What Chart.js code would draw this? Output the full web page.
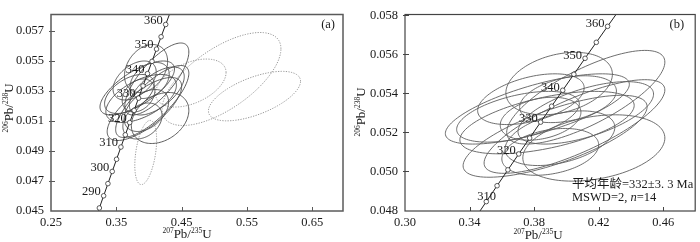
<!DOCTYPE html>
<html>
<head>
<meta charset="utf-8">
<script src="https://cdn.jsdelivr.net/npm/chart.js@4.4.1/dist/chart.umd.min.js"></script>
<style>
body { margin: 0; background: #fff; }
#wrapA { position: absolute; left: 0; top: 0; width: 350px; height: 242px; }
#wrapB { position: absolute; left: 350px; top: 0; width: 350px; height: 242px; }
</style>
</head>
<body>
<div id="wrapA"><canvas id="chartA"></canvas></div>
<div id="wrapB"><canvas id="chartB"></canvas></div>
<script>
// concordia (age in Ma, 207Pb/235U, 206Pb/238U)
var ages = [275, 280, 285, 290, 295, 300, 305, 310, 315, 320, 325, 330, 335, 340, 345, 350, 355, 360, 365, 370];
var concX = [0.31106, 0.31753, 0.32403, 0.33057, 0.33714, 0.34374, 0.35037, 0.35704, 0.36374, 0.37047,
             0.37723, 0.38403, 0.39086, 0.39773, 0.40463, 0.41156, 0.41853, 0.42553, 0.43257, 0.43964];
var concY = [0.043582, 0.044392, 0.045202, 0.046013, 0.046825, 0.047637, 0.048450, 0.049264, 0.050078, 0.050893,
             0.051708, 0.052524, 0.053341, 0.054158, 0.054976, 0.055795, 0.056614, 0.057434, 0.058254, 0.059075];
var labelAgesA = [290, 300, 310, 320, 330, 340, 350, 360];
var labelAgesB = [310, 320, 330, 340, 350, 360];

// analyses used in the mean (centre, half-width, half-height, error correlation)
var spotX   = [0.3955, 0.4120, 0.3820, 0.3880, 0.3930, 0.4170, 0.4050, 0.3840, 0.4010, 0.3700, 0.3960, 0.4120, 0.3780, 0.3900];
var spotY   = [0.05450, 0.05380, 0.05320, 0.05250, 0.05180, 0.05120, 0.05230, 0.05270, 0.05370, 0.05280, 0.05170, 0.05300, 0.05370, 0.05100];
var spotSX  = [0.0330, 0.0490, 0.0570, 0.0540, 0.0570, 0.0440, 0.0560, 0.0250, 0.0300, 0.0380, 0.0340, 0.0420, 0.0330, 0.0300];
var spotSY  = [0.00160, 0.00240, 0.00180, 0.00160, 0.00210, 0.00170, 0.00240, 0.00110, 0.00120, 0.00130, 0.00140, 0.00160, 0.00130, 0.00120];
var spotRho = [0.30, 0.75, 0.70, 0.55, 0.72, 0.30, 0.78, 0.30, 0.35, 0.50, 0.40, 0.60, 0.45, 0.30];

// discordant analyses (dotted in panel a)
var discX   = [0.511, 0.464, 0.5615, 0.395];
var discY   = [0.0538, 0.05353, 0.05266, 0.0489];
var discSX  = [0.091, 0.054, 0.0705, 0.0167];
var discSY  = [0.0031, 0.0016, 0.00165, 0.00214];
var discRho = [0.65, 0.44, 0.60, 0.40];

var xTicksA = [0.25, 0.35, 0.45, 0.55, 0.65];
var yTicksA = [0.045, 0.047, 0.049, 0.051, 0.053, 0.055, 0.057];
var xTicksB = [0.30, 0.34, 0.38, 0.42, 0.46];
var yTicksB = [0.048, 0.050, 0.052, 0.054, 0.056, 0.058];

var SERIF = '"Liberation Serif", "Noto Sans CJK SC", serif';
var INK = '#1a1a1a';

function ellipsePlugin(sets) {
  return {
    id: 'ellipses',
    beforeDatasetsDraw: function(chart) {
      var ctx = chart.ctx, xs = chart.scales.x, ys = chart.scales.y, a = chart.chartArea;
      ctx.save();
      ctx.beginPath();
      ctx.rect(a.left, a.top, a.right - a.left, a.bottom - a.top);
      ctx.clip();
      sets.forEach(function(s) {
        ctx.strokeStyle = s.color;
        ctx.lineWidth = s.width;
        ctx.setLineDash(s.dash || []);
        for (var k = 0; k < s.cx.length; k++) {
          var q = Math.sqrt(1 - s.rho[k] * s.rho[k]);
          ctx.beginPath();
          for (var j = 0; j <= 120; j++) {
            var t = j / 120 * 2 * Math.PI;
            var px = xs.getPixelForValue(s.cx[k] + s.sx[k] * Math.cos(t));
            var py = ys.getPixelForValue(s.cy[k] + s.sy[k] * (s.rho[k] * Math.cos(t) + q * Math.sin(t)));
            if (j === 0) ctx.moveTo(px, py); else ctx.lineTo(px, py);
          }
          ctx.closePath();
          ctx.stroke();
        }
      });
      ctx.restore();
    }
  };
}

function drawIsotopeLabel(ctx, parts, cx, cy) {
  var big = '13px ' + SERIF, small = '7.5px ' + SERIF;
  var w = 0;
  parts.forEach(function(p) { ctx.font = p[1] ? small : big; w += ctx.measureText(p[0]).width; });
  var x = cx - w / 2;
  parts.forEach(function(p) {
    ctx.font = p[1] ? small : big;
    ctx.fillText(p[0], x, p[1] ? cy - 5 : cy);
    x += ctx.measureText(p[0]).width;
  });
}

function decorPlugin(cfg) {
  return {
    id: 'decor',
    afterDraw: function(chart) {
      var ctx = chart.ctx, xs = chart.scales.x, ys = chart.scales.y, a = chart.chartArea;
      ctx.save();
      // inner tick marks
      ctx.strokeStyle = cfg.frameColor;
      ctx.lineWidth = 1;
      cfg.xTicks.forEach(function(v) {
        var px = Math.round(xs.getPixelForValue(v)) + 0.5;
        ctx.beginPath(); ctx.moveTo(px, a.bottom); ctx.lineTo(px, a.bottom - 4); ctx.stroke();
      });
      cfg.yTicks.forEach(function(v) {
        var py = Math.round(ys.getPixelForValue(v)) + 0.5;
        ctx.beginPath(); ctx.moveTo(a.left - 2, py); ctx.lineTo(a.left + 4, py); ctx.stroke();
      });
      // frame
      ctx.lineWidth = cfg.frameWidth;
      ctx.strokeRect(a.left, a.top, a.right - a.left, a.bottom - a.top);

      ctx.fillStyle = INK;
      ctx.textBaseline = 'alphabetic';
      ctx.textAlign = 'left';
      // axis titles
      drawIsotopeLabel(ctx, [['207', true], ['Pb/', false], ['235', true], ['U', false]], cfg.xTitle[0], cfg.xTitle[1]);
      ctx.save();
      ctx.translate(cfg.yTitle[0], cfg.yTitle[1]);
      ctx.rotate(-Math.PI / 2);
      drawIsotopeLabel(ctx, [['206', true], ['Pb/', false], ['238', true], ['U', false]], 0, 4);
      ctx.restore();

      // panel tag
      ctx.font = '12.5px ' + SERIF;
      ctx.textAlign = 'right';
      ctx.textBaseline = 'middle';
      ctx.fillText(cfg.tag, a.right - cfg.tagInset, a.top + 10);

      // concordia age labels
      ctx.font = '12.5px ' + SERIF;
      cfg.labelAges.forEach(function(age) {
        var i = ages.indexOf(age);
        var off = cfg.labelOffsets[age] || cfg.labelOffset;
        ctx.fillText(String(age), xs.getPixelForValue(concX[i]) + off[0], ys.getPixelForValue(concY[i]) + off[1]);
      });

      if (cfg.note) cfg.note(ctx, a);
      ctx.restore();
    }
  };
}

function buildChart(id, o) {
  var concData = concX.map(function(x, i) { return { x: x, y: concY[i] }; });
  return new Chart(document.getElementById(id), {
    type: 'scatter',
    data: {
      datasets: [{
        data: concData,
        showLine: true,
        borderColor: '#222',
        borderWidth: 1,
        pointRadius: 2.3,
        pointBackgroundColor: '#fff',
        pointBorderColor: '#333',
        pointBorderWidth: 0.8,
        clip: 0
      }]
    },
    options: {
      responsive: true,
      maintainAspectRatio: false,
      devicePixelRatio: 1,
      animation: false,
      events: [],
      layout: { padding: o.padding },
      plugins: { legend: { display: false }, tooltip: { enabled: false } },
      scales: {
        x: {
          type: 'linear', min: o.xMin, max: o.xMax,
          grid: { display: false, drawTicks: false },
          border: { display: false },
          afterBuildTicks: function(s) { s.ticks = o.xTicks.map(function(v) { return { value: v }; }); },
          afterFit: function(s) { s.height = o.xHeight; },
          ticks: {
            padding: 4, color: INK, maxRotation: 0, autoSkip: false,
            font: { family: SERIF, size: 12.5 },
            callback: function(v) { return Number(v).toFixed(2); }
          }
        },
        y: {
          type: 'linear', min: o.yMin, max: o.yMax,
          grid: { display: false, drawTicks: false },
          border: { display: false },
          afterBuildTicks: function(s) { s.ticks = o.yTicks.map(function(v) { return { value: v }; }); },
          afterFit: function(s) { s.width = o.yWidth; },
          ticks: {
            padding: 7, color: INK, autoSkip: false,
            font: { family: SERIF, size: 12.5 },
            callback: function(v) { return Number(v).toFixed(3); }
          }
        }
      }
    },
    plugins: [ellipsePlugin(o.ellipses), decorPlugin(o.decor)]
  });
}

var spotSet = function(color, width) {
  return { cx: spotX, cy: spotY, sx: spotSX, sy: spotSY, rho: spotRho, color: color, width: width };
};

buildChart('chartA', {
  xMin: 0.25, xMax: 0.697, yMin: 0.045, yMax: 0.0581,
  xTicks: xTicksA, yTicks: yTicksA,
  padding: { left: 0, right: 7, top: 5, bottom: 0 },
  xHeight: 31, yWidth: 51,
  ellipses: [
    { cx: discX, cy: discY, sx: discSX, sy: discSY, rho: discRho, color: '#9a9a9a', width: 1, dash: [1.3, 1.3] },
    spotSet('#4a4a4a', 0.9)
  ],
  decor: {
    xTicks: xTicksA.slice(1), yTicks: yTicksA.slice(1),
    frameColor: '#5a5a5a', frameWidth: 1.5,
    xTitle: [187, 238], yTitle: [9, 108],
    tag: '(a)', tagInset: 8,
    labelAges: labelAgesA, labelOffset: [-3, -4], labelOffsets: {}
  }
});

buildChart('chartB', {
  xMin: 0.30, xMax: 0.4798, yMin: 0.04797, yMax: 0.05804,
  xTicks: xTicksB, yTicks: yTicksB,
  padding: { left: 0, right: 1, top: 3, bottom: 0 },
  xHeight: 31, yWidth: 55,
  ellipses: [spotSet('#5e5e5e', 0.9)],
  decor: {
    xTicks: xTicksB.slice(1), yTicks: yTicksB.slice(1),
    frameColor: '#444', frameWidth: 1.2,
    xTitle: [188, 239], yTitle: [11, 112],
    tag: '(b)', tagInset: 11,
    labelAges: labelAgesB, labelOffset: [-3, -3], labelOffsets: { 310: [-1, 11] },
    note: function(ctx, a) {
      ctx.textAlign = 'left';
      ctx.textBaseline = 'middle';
      ctx.font = '12.5px ' + SERIF;
      ctx.fillText('平均年龄=332±3. 3 Ma', 222, 185);
      var x = 222;
      ctx.fillText('MSWD=2, ', x, 198);
      x += ctx.measureText('MSWD=2, ').width;
      ctx.font = 'italic 12.5px ' + SERIF;
      ctx.fillText('n', x, 198);
      x += ctx.measureText('n').width;
      ctx.font = '12.5px ' + SERIF;
      ctx.fillText('=14', x, 198);
    }
  }
});
</script>
</body>
</html>
